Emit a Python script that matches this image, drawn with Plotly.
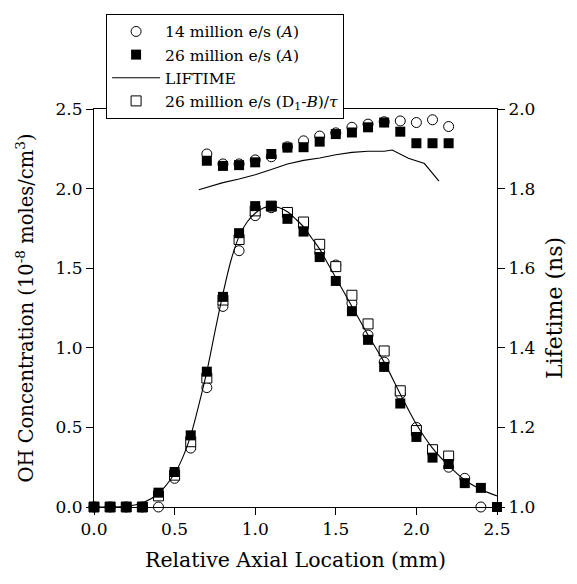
import plotly.graph_objects as go

# Axial positions of the measurements (mm)
x_pos = [0.0, 0.1, 0.2, 0.3, 0.4, 0.5, 0.6, 0.7, 0.8, 0.9, 1.0, 1.1, 1.2,
         1.3, 1.4, 1.5, 1.6, 1.7, 1.8, 1.9, 2.0, 2.1, 2.2, 2.3, 2.4, 2.5]

# OH concentration (1e-8 moles/cm^3)
oh_14_A = [0.0, 0.0, 0.0, 0.0, 0.0, 0.18, 0.37, 0.75, 1.26, 1.61, 1.83, 1.88, 1.84,
           1.76, 1.60, 1.52, 1.28, 1.08, 0.91, 0.71, 0.50, 0.35, 0.25, 0.18, 0.0, None]
oh_26_A = [0.0, 0.0, 0.0, 0.0, 0.09, 0.22, 0.45, 0.85, 1.32, 1.72, 1.89, 1.89, 1.81,
           1.73, 1.57, 1.42, 1.23, 1.05, 0.88, 0.65, 0.44, 0.31, 0.27, 0.15, 0.12, 0.0]
oh_26_DB = [0.0, 0.0, 0.0, 0.0, 0.07, 0.20, 0.41, 0.81, 1.30, 1.68, 1.86, 1.89, 1.85,
            1.79, 1.65, 1.51, 1.33, 1.15, 0.98, 0.73, 0.48, 0.36, 0.32, None, None, None]

# Smooth concentration profile
fit_x = [0.0, 0.1, 0.2, 0.3, 0.4, 0.5, 0.55, 0.6, 0.65, 0.7, 0.75, 0.8, 0.85, 0.9,
         0.95, 1.0, 1.05, 1.1, 1.15, 1.2, 1.25, 1.3, 1.35, 1.4, 1.45, 1.5, 1.55,
         1.6, 1.65, 1.7, 1.8, 1.9, 2.0, 2.1, 2.2, 2.3, 2.4, 2.5]
fit_y = [0.0, 0.0, 0.005, 0.025, 0.085, 0.21, 0.31, 0.45, 0.64, 0.85, 1.10, 1.34,
         1.55, 1.70, 1.79, 1.845, 1.878, 1.89, 1.88, 1.855, 1.81, 1.76, 1.69, 1.62,
         1.53, 1.44, 1.35, 1.26, 1.17, 1.08, 0.91, 0.71, 0.52, 0.37, 0.26, 0.17,
         0.11, 0.07]

# Measured lifetimes (ns)
lt_pos = [0.7, 0.8, 0.9, 1.0, 1.1, 1.2, 1.3, 1.4, 1.5, 1.6, 1.7, 1.8, 1.9, 2.0, 2.1, 2.2]
lt_14 = [1.887, 1.862, 1.862, 1.872, 1.880, 1.905, 1.920, 1.932, 1.940, 1.954,
         1.962, 1.968, 1.970, 1.966, 1.973, 1.956]
lt_26 = [1.870, 1.857, 1.859, 1.866, 1.887, 1.903, 1.904, 1.918, 1.937, 1.941,
         1.954, 1.966, 1.943, 1.914, 1.914, 1.914]

# Computed lifetime curve (ns)
lift_x = [0.65, 0.8, 0.9, 1.0, 1.1, 1.2, 1.3, 1.4, 1.5, 1.6, 1.7, 1.8, 1.85, 1.95, 2.05, 2.14]
lift_y = [1.797, 1.815, 1.824, 1.835, 1.848, 1.862, 1.871, 1.877, 1.885, 1.891,
          1.894, 1.894, 1.897, 1.876, 1.863, 1.819]

FONT = "DejaVu Serif"
MS = 10

open_circle = dict(symbol="circle", size=MS, color="white", line=dict(color="black", width=1))
filled_sq = dict(symbol="square", size=MS, color="black", line=dict(color="black", width=0))
open_sq = dict(symbol="square", size=MS, color="white", line=dict(color="black", width=1))

fig = go.Figure()

# Lifetime curve (right axis)
fig.add_trace(go.Scatter(x=lift_x, y=lift_y, mode="lines", yaxis="y2",
                         line=dict(color="black", width=1.1),
                         name="LIFTIME", legendrank=3, cliponaxis=False))

# Circles: 14 million e/s
fig.add_trace(go.Scatter(x=x_pos, y=oh_14_A, mode="markers", marker=open_circle,
                         name="14 million e/s (<i>A</i>)", legendgroup="c14",
                         legendrank=1, cliponaxis=False))
fig.add_trace(go.Scatter(x=lt_pos, y=lt_14, mode="markers", marker=open_circle,
                         yaxis="y2", legendgroup="c14", showlegend=False,
                         cliponaxis=False))

# Open squares: (D1-B)/tau
fig.add_trace(go.Scatter(x=x_pos, y=oh_26_DB, mode="markers", marker=open_sq,
                         name="26 million e/s (D<sub>1</sub>-<i>B</i>)/<i>τ</i>",
                         legendrank=4, cliponaxis=False))

# Filled squares: 26 million e/s
fig.add_trace(go.Scatter(x=x_pos, y=oh_26_A, mode="markers", marker=filled_sq,
                         name="26 million e/s (<i>A</i>)", legendgroup="s26",
                         legendrank=2, cliponaxis=False))
fig.add_trace(go.Scatter(x=lt_pos, y=lt_26, mode="markers", marker=filled_sq,
                         yaxis="y2", legendgroup="s26", showlegend=False,
                         cliponaxis=False))

# Concentration profile drawn on top
fig.add_trace(go.Scatter(x=fit_x, y=fit_y, mode="lines",
                         line=dict(color="black", width=1.1, shape="spline", smoothing=0.8),
                         showlegend=False, cliponaxis=False))

axis_common = dict(showline=True, linecolor="black", linewidth=1, ticks="outside",
                   ticklen=7, tickwidth=1, tickcolor="black", showgrid=False,
                   zeroline=False, tickfont=dict(family=FONT, size=17, color="black"))

fig.update_layout(
    width=577, height=584,
    margin=dict(l=94, r=80, t=109, b=77),
    paper_bgcolor="white", plot_bgcolor="white",
    font=dict(family=FONT, color="black"),
    xaxis=dict(range=[0, 2.5], tickvals=[0, 0.5, 1.0, 1.5, 2.0, 2.5], tickformat=".1f",
               mirror=True,
               title=dict(text="Relative Axial Location (mm)",
                          font=dict(family=FONT, size=20.5, color="black"), standoff=14),
               **axis_common),
    yaxis=dict(range=[0, 2.5], tickvals=[0, 0.5, 1.0, 1.5, 2.0, 2.5], tickformat=".1f",
               title=dict(text="OH Concentration (10<sup>-8</sup> moles/cm<sup>3</sup>)",
                          font=dict(family=FONT, size=19.5, color="black"), standoff=16),
               **axis_common),
    yaxis2=dict(range=[1.0, 2.0], overlaying="y", side="right",
                tickvals=[1.0, 1.2, 1.4, 1.6, 1.8, 2.0], tickformat=".1f",
                title=dict(text="Lifetime (ns)",
                           font=dict(family=FONT, size=22, color="black"), standoff=12),
                **axis_common),
    legend=dict(x=0.03, y=1.239, xanchor="left", yanchor="top",
                bgcolor="white", bordercolor="black", borderwidth=1,
                font=dict(family=FONT, size=15.5, color="black"),
                itemwidth=48, tracegroupgap=0),
    showlegend=True,
)

fig.write_html("out.html")
